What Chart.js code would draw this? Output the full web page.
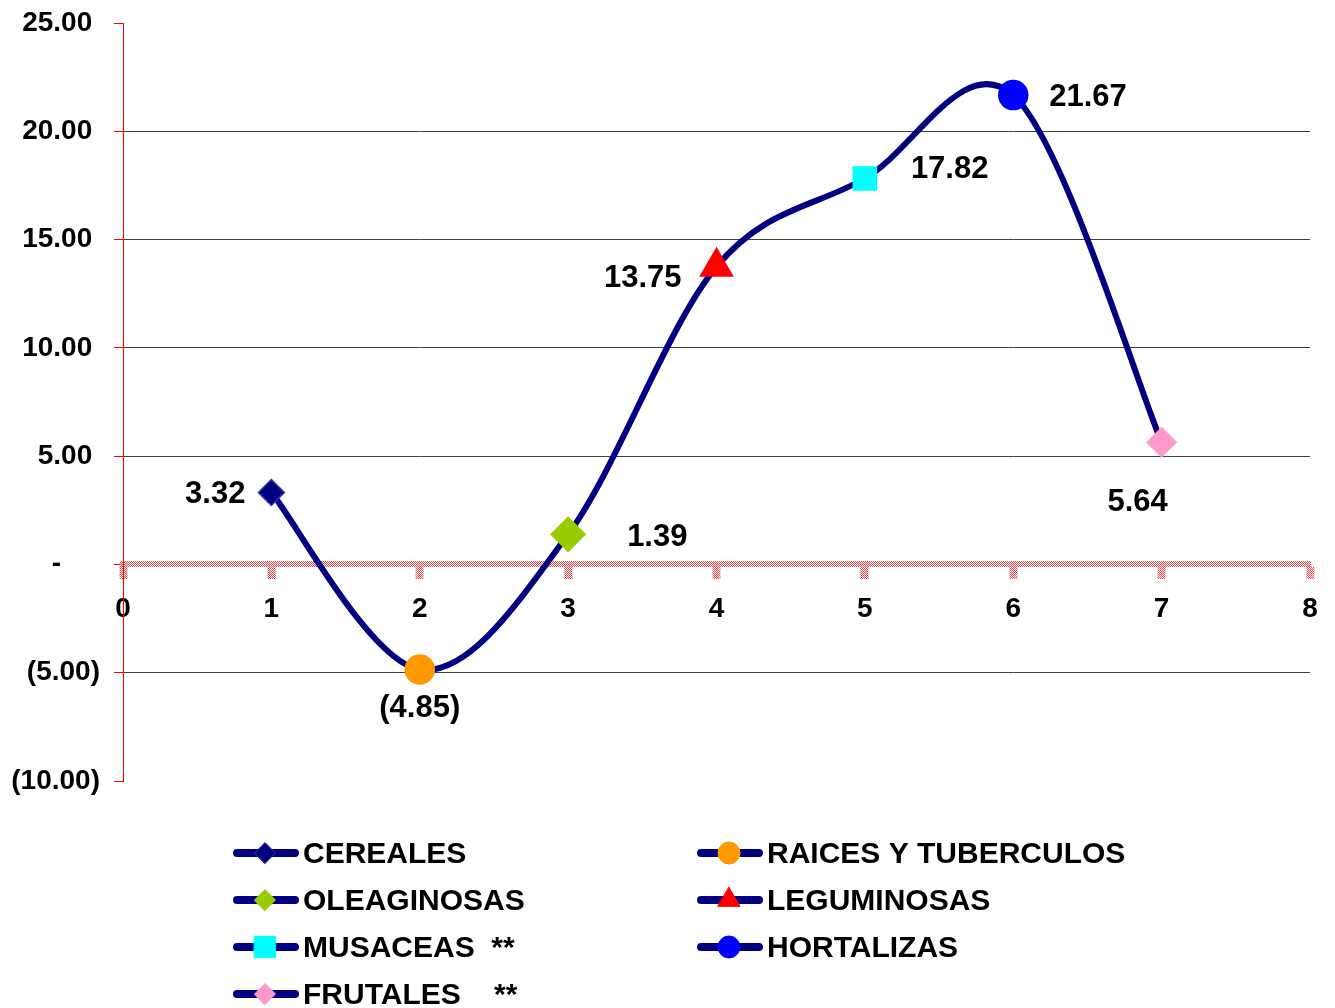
<!DOCTYPE html>
<html>
<head>
<meta charset="utf-8">
<script src="https://cdn.jsdelivr.net/npm/chart.js@4/dist/chart.umd.min.js"></script>
<style>
html, body { margin: 0; padding: 0; background: #fff; }
</style>
</head>
<body>
<canvas id="growthChart" width="1335" height="1008"></canvas>
<script>
// data
const crops = ['CEREALES', 'RAICES Y TUBERCULOS', 'OLEAGINOSAS', 'LEGUMINOSAS', 'MUSACEAS  **', 'HORTALIZAS', 'FRUTALES    **'];
const xValues = [1, 2, 3, 4, 5, 6, 7];
const growth = [3.32, -4.85, 1.39, 13.75, 17.82, 21.67, 5.64];
const yTickValues = [-10, -5, 0, 5, 10, 15, 20, 25];
const xTickValues = [0, 1, 2, 3, 4, 5, 6, 7, 8];

// marker styles, one per crop
const markerStyle = ['rectRot', 'circle', 'rectRot', 'triangle', 'rect', 'circle', 'rectRot'];
const markerFill = ['#000080', '#FF9900', '#99CC00', '#FF0000', '#00FFFF', '#0000FF', '#FF99CC'];
const markerBorder = ['#3333AA', '#FF9900', '#99CC00', '#FF0000', '#00FFFF', '#0000FF', '#FF99CC'];
const markerRadius = [13, 14.5, 17, 18.5, 16.3, 14.5, 14.5];
const legendRadius = [10.5, 11, 10.5, 12.7, 15, 11, 10.5];
// label placement: [dx, dy, align]
const labelPlace = [[-26, 2, 'right'], [0, 39, 'center'], [59, 3, 'left'], [-35, 12, 'right'],
                    [46, -9, 'left'], [36, 2, 'left'], [-24, 60, 'center']];

const FONT = 'Liberation Sans, Arial, sans-serif';

function fmtNum(v) {
    if (v === 0) return '-';
    const s = Math.abs(v).toFixed(2);
    return v < 0 ? '(' + s + ')' : s;
}

// accounting style axis labels (digits line up, paren space on the right)
function fmtAxis(v) {
    if (v === 0) return '-     ';
    return v < 0 ? fmtNum(v) : fmtNum(v) + ' ';
}

function makeHatch() {
    const c = document.createElement('canvas');
    c.width = 2; c.height = 2;
    const g = c.getContext('2d');
    g.fillStyle = '#FFFFFF';
    g.fillRect(0, 0, 2, 2);
    g.fillStyle = '#F04040';
    g.fillRect(0, 0, 1, 1);
    g.fillRect(1, 1, 1, 1);
    return g.createPattern(c, 'repeat');
}
const hatch = makeHatch();

//////////// excel-like smoothing (catmull-rom control points)
const excelSmooth = {
    id: 'excelSmooth',
    beforeDatasetDraw(chart, args) {
        const meta = args.meta;
        const line = meta.dataset;
        line.updateControlPoints(chart.chartArea, 'x');
        const pts = meta.data;
        const n = pts.length;
        for (let i = 0; i < n; i++) {
            const prev = pts[Math.max(i - 1, 0)];
            const next = pts[Math.min(i + 1, n - 1)];
            const dx = (next.x - prev.x) / 6;
            const dy = (next.y - prev.y) / 6;
            pts[i].cp1x = pts[i].x - dx;
            pts[i].cp1y = pts[i].y - dy;
            pts[i].cp2x = pts[i].x + dx;
            pts[i].cp2y = pts[i].y + dy;
        }
        delete line._path;
    }
};

//////////// data labels
const valueLabels = {
    id: 'valueLabels',
    afterDatasetsDraw(chart) {
        const ctx = chart.ctx;
        const meta = chart.getDatasetMeta(0);
        ctx.save();
        ctx.font = 'bold 31px ' + FONT;
        ctx.fillStyle = '#000';
        ctx.textBaseline = 'middle';
        meta.data.forEach((pt, i) => {
            const p = labelPlace[i];
            ctx.textAlign = p[2];
            ctx.fillText(fmtNum(growth[i]), pt.x + p[0], pt.y + p[1]);
        });
        ctx.restore();
    }
};

//////////// legend
const lineLegend = {
    id: 'lineLegend',
    afterDraw(chart) {
        const ctx = chart.ctx;
        const colX = [233, 697];
        ctx.save();
        crops.forEach((name, i) => {
            const x0 = colX[i % 2];
            const y = 853 + Math.floor(i / 2) * 47;
            ctx.beginPath();
            ctx.lineCap = 'round';
            ctx.lineWidth = 8;
            ctx.strokeStyle = '#000080';
            ctx.moveTo(x0 + 4, y);
            ctx.lineTo(x0 + 62, y);
            ctx.stroke();
            ctx.fillStyle = markerFill[i];
            ctx.strokeStyle = markerBorder[i];
            ctx.lineWidth = 1;
            Chart.helpers.drawPoint(ctx, {
                pointStyle: markerStyle[i], radius: legendRadius[i], rotation: 0, borderWidth: 1
            }, x0 + 32, y);
            ctx.font = 'bold 30px ' + FONT;
            ctx.fillStyle = '#000';
            ctx.textAlign = 'left';
            ctx.textBaseline = 'middle';
            ctx.fillText(name, x0 + 70, y + 2);
        });
        ctx.restore();
    }
};

const tickFont = { family: FONT, size: 28, weight: 'bold' };

new Chart(document.getElementById('growthChart'), {
    type: 'line',
    data: {
        datasets: [{
            label: 'crecimiento',
            data: xValues.map((x, i) => ({ x: x, y: growth[i] })),
            borderColor: '#000080',
            borderWidth: 6,
            borderCapStyle: 'round',
            borderJoinStyle: 'round',
            tension: 0.4,
            fill: false,
            clip: false,
            pointStyle: markerStyle,
            pointRadius: markerRadius,
            pointHoverRadius: markerRadius,
            pointBackgroundColor: markerFill,
            pointBorderColor: markerBorder,
            pointBorderWidth: 1.5
        }]
    },
    options: {
        responsive: false,
        animation: false,
        devicePixelRatio: 1,
        layout: { padding: { top: 23, right: 25, bottom: 227, left: 0 } },
        plugins: {
            legend: { display: false },
            tooltip: { enabled: false }
        },
        scales: {
            x: {
                type: 'linear',
                position: { y: 0 },
                min: 0,
                max: 8,
                afterBuildTicks: s => { s.ticks = xTickValues.map(v => ({ value: v })); },
                afterFit: s => { s.height = 0; s.paddingTop = 0; s.paddingBottom = 0; },
                border: { display: true, color: hatch, width: 6 },
                grid: { drawOnChartArea: false, drawTicks: true, tickLength: 12, tickWidth: 8, tickColor: hatch },
                ticks: { font: tickFont, color: '#000', padding: 16, maxRotation: 0, callback: v => String(v) }
            },
            y: {
                min: -10,
                max: 25,
                afterBuildTicks: s => { s.ticks = yTickValues.map(v => ({ value: v })); },
                afterFit: s => { s.width = 123; s.paddingTop = 0; s.paddingBottom = 0; },
                border: { display: true, color: '#FF0000', width: 1 },
                grid: {
                    color: c => (c.tick && [0, 25, -10].includes(c.tick.value)) ? 'rgba(0,0,0,0)' : '#404040',
                    tickColor: '#FF0000',
                    tickLength: 9,
                    lineWidth: 1
                },
                ticks: { font: tickFont, color: '#000', padding: 14, callback: v => fmtAxis(v) }
            }
        }
    },
    plugins: [excelSmooth, valueLabels, lineLegend]
});
</script>
</body>
</html>
